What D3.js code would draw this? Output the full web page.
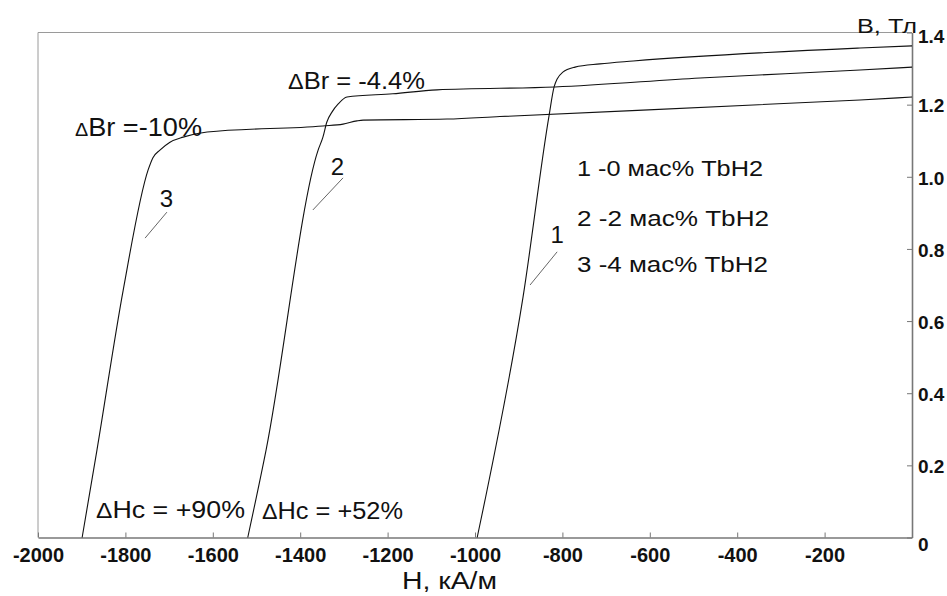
<!DOCTYPE html>
<html>
<head>
<meta charset="utf-8">
<script src="https://cdn.jsdelivr.net/npm/d3@7"></script>
<style>
  html, body { margin: 0; padding: 0; background: #fff; }
  svg { display: block; }
  text { font-family: "Liberation Sans", Arial, sans-serif; fill: #111; }
</style>
</head>
<body>
<svg id="chart" width="947" height="596"></svg>
<script>
// ---- data ----
const xTicks = [-2000, -1800, -1600, -1400, -1200, -1000, -800, -600, -400, -200];
const yTicks = [0, 0.2, 0.4, 0.6, 0.8, 1.0, 1.2, 1.4];
const yTickLabels = ["0", "0.2", "0.4", "0.6", "0.8", "1.0", "1.2", "1.4"];

// curve 1: 0 мас% TbH2
const curve1H = [-995, -977, -890, -831, -819, -812, -799, -771, -714, -638, -119, 0];
const curve1B = [0, 0.104, 0.667, 1.166, 1.249, 1.271, 1.290, 1.304, 1.313, 1.321, 1.357, 1.363];
// curve 2: 2 мас% TbH2
const curve2H = [-1520, -1478, -1359, -1348, -1339, -1327, -1313, -1293, -1188, -1087, -817, -485, -119, 0];
const curve2B = [0, 0.243, 1.074, 1.110, 1.152, 1.180, 1.202, 1.221, 1.230, 1.241, 1.249, 1.274, 1.296, 1.304];
// curve 3: 4 мас% TbH2
const curve3H = [-1899, -1865, -1805, -1748, -1737, -1721, -1698, -1668, -1613, -1348, -1302, -1270, -1256, -1064, -943, -119, 0];
const curve3B = [0, 0.243, 0.686, 1.019, 1.053, 1.074, 1.096, 1.110, 1.124, 1.141, 1.146, 1.155, 1.157, 1.160, 1.167, 1.213, 1.221];

const legendLabels = ["1 -0 мас% TbH2", "2 -2 мас% TbH2", "3 -4 мас% TbH2"];
const curveNumbers = ["1", "2", "3"];
// number label anchor (H, B) and leader line ends
const numberPosH = [-812, -1315, -1706];
const numberPosB = [0.816, 1.005, 0.916];
const leaderH1 = [-812, -1302, -1705];
const leaderB1 = [0.792, 0.997, 0.902];
const leaderH2 = [-874, -1371, -1755];
const leaderB2 = [0.700, 0.908, 0.830];

// ---- layout ----
const plotL = 38, plotR = 912, plotT = 32.5, plotB = 537.5;
const svg = d3.select("#chart");

const x = d3.scaleLinear().domain([-2000, 0]).range([plotL, plotR]);
const y = d3.scaleLinear().domain([0, 1.4]).range([plotB, plotT]);

// frame (top and left, light grey)
svg.append("line").attr("x1", plotL).attr("x2", plotR).attr("y1", plotT).attr("y2", plotT)
  .attr("stroke", "#9a9a9a").attr("stroke-width", 1);
svg.append("line").attr("x1", plotL).attr("x2", plotL).attr("y1", plotT).attr("y2", plotB)
  .attr("stroke", "#9a9a9a").attr("stroke-width", 1);

// x axis (bottom)
const xAxis = d3.axisBottom(x).tickValues(xTicks).tickSizeInner(-5).tickSizeOuter(0)
  .tickFormat(d => String(d));
const gx = svg.append("g").attr("transform", `translate(0,${plotB})`).call(xAxis);
gx.select(".domain").attr("stroke", "#777").attr("stroke-width", 1.6);
gx.selectAll(".tick line").attr("stroke", "#777");
gx.selectAll(".tick text").attr("y", 10).attr("dy", "0.71em")
  .style("font-size", "20px").style("font-weight", "bold")
  .style("font-family", "'Liberation Sans', Arial, sans-serif").attr("fill", "#111");

// y axis (right)
const yAxis = d3.axisRight(y).tickValues(yTicks).tickSizeInner(-5).tickSizeOuter(0)
  .tickFormat((d, i) => yTickLabels[i]);
const gy = svg.append("g").attr("transform", `translate(${plotR},0)`).call(yAxis);
gy.select(".domain").attr("stroke", "#777").attr("stroke-width", 1.6);
gy.selectAll(".tick line").attr("stroke", "#777");
gy.selectAll(".tick text").attr("x", 6).attr("dy", (d) => d === 0 ? "0.7em" : (d === 1.4 ? "0.5em" : "0.38em"))
  .style("font-size", "19px").style("font-weight", "bold")
  .style("font-family", "'Liberation Sans', Arial, sans-serif").attr("fill", "#111");

// axis titles
svg.append("text").attr("x", 857).attr("y", 33).attr("textLength", 60)
  .attr("lengthAdjust", "spacingAndGlyphs").style("font-size", "20px").text("В,  Тл");
svg.append("text").attr("x", 402).attr("y", 589).attr("textLength", 95)
  .attr("lengthAdjust", "spacingAndGlyphs").style("font-size", "23px").text("Н,  кА/м");

// curves
const line = d3.line().x(d => x(d[0])).y(d => y(d[1])).curve(d3.curveMonotoneX);
const curves = [
  d3.zip(curve1H, curve1B),
  d3.zip(curve2H, curve2B),
  d3.zip(curve3H, curve3B)
];
svg.append("g").selectAll("path").data(curves).join("path")
  .attr("d", line).attr("fill", "none").attr("stroke", "#111").attr("stroke-width", 1.1);

// curve number labels + leaders
curveNumbers.forEach((n, i) => {
  svg.append("line")
    .attr("x1", x(leaderH1[i])).attr("y1", y(leaderB1[i]))
    .attr("x2", x(leaderH2[i])).attr("y2", y(leaderB2[i]))
    .attr("stroke", "#666").attr("stroke-width", 1);
  svg.append("text").attr("x", x(numberPosH[i])).attr("y", y(numberPosB[i]))
    .attr("text-anchor", "middle").style("font-size", "24px").text(n);
});

// annotations
function annot(xp, yp, width, size, parts) {
  const t = svg.append("text").attr("x", xp).attr("y", yp)
    .attr("textLength", width).attr("lengthAdjust", "spacingAndGlyphs")
    .style("font-size", size + "px");
  parts.forEach(p => t.append("tspan").style("font-size", (p[1] || size) + "px").text(p[0]));
}
annot(75, 136, 127, 26, [["Δ", 19], ["Br =-10%"]]);
annot(288, 89, 137, 24, [["Δ", 22], ["Br = -4.4%"]]);
annot(96, 518, 149, 24, [["Δ", 22], ["Hc = +90%"]]);
annot(262, 519, 141, 24, [["Δ", 22], ["Hc = +52%"]]);

// legend
const legendY = [176, 226, 272];
const legendW = [186, 192, 191];
legendLabels.forEach((s, i) => {
  svg.append("text").attr("x", 577).attr("y", legendY[i])
    .attr("textLength", legendW[i]).attr("lengthAdjust", "spacingAndGlyphs")
    .style("font-size", "22px").text(s);
});
</script>
</body>
</html>
